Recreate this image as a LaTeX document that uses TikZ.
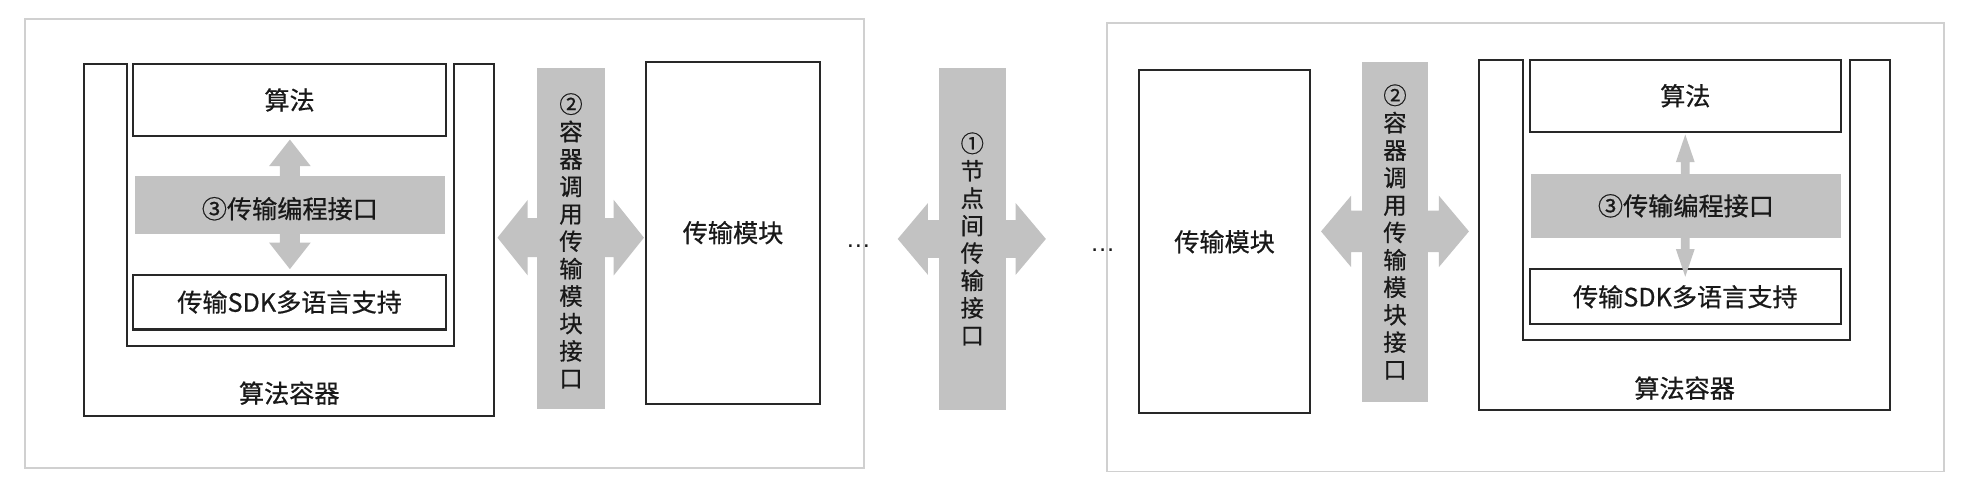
\documentclass[tikz,border=0pt]{standalone}
\usepackage{fontspec}
\setmainfont{Noto Sans CJK SC}[FakeBold=0.6]
\newfontfamily\latinf{Liberation Sans}
\usetikzlibrary{fit}
\definecolor{linec}{RGB}{40,40,40}
\definecolor{lightc}{RGB}{208,208,208}
\definecolor{bandc}{RGB}{194,194,194}
\definecolor{txtc}{RGB}{25,25,25}
\newcommand\hblock[5]{\fill[bandc] (#1) -- ([shift={(#3,-#4)}]#1) -- ([shift={(#3,-#5)}]#1) -- ([shift={(-#3,-#5)}]#2) -- ([shift={(-#3,-#4)}]#2) -- (#2) -- ([shift={(-#3,#4)}]#2) -- ([shift={(-#3,#5)}]#2) -- ([shift={(#3,#5)}]#1) -- ([shift={(#3,#4)}]#1) -- cycle;}
\newcommand\vblock[5]{\fill[bandc] (#1) -- ([shift={(#4,#3)}]#1) -- ([shift={(#5,#3)}]#1) -- ([shift={(#5,-#3)}]#2) -- ([shift={(#4,-#3)}]#2) -- (#2) -- ([shift={(-#4,-#3)}]#2) -- ([shift={(-#5,-#3)}]#2) -- ([shift={(-#5,#3)}]#1) -- ([shift={(-#4,#3)}]#1) -- cycle;}
\begin{document}
\begin{tikzpicture}[x=0.5pt,y=-0.5pt,
  lightbox/.style={draw=lightc, line width=0.7pt, inner sep=0pt},
  blkbox/.style={draw=linec, line width=0.8pt, fill=white, inner sep=0pt},
  bandbox/.style={fill=bandc, draw=none, inner sep=0pt},
  blk/.style={draw=linec, line width=0.8pt},
  txt/.style={font=\fontsize{10}{12}\selectfont, text=txtc, inner sep=0pt},
  vtxt/.style={font=\fontsize{9.3}{10.9}\selectfont, align=center, text=txtc, inner sep=0pt},
  dots/.style={font=\latinf\fontsize{10}{12}\selectfont, text=txtc, inner sep=0pt}]
\useasboundingbox (0,0) rectangle (1568,394);
\fill[white] (0,0) rectangle (1568,394);

% ---------- left panel ----------
\node[lightbox, fit={(20,15.4)(686.8,372)}] (outL) {};
\draw[blk] (67,51) -- (101,51) -- (101,275) -- (361,275) -- (361,51) -- (393,51) -- (393,331) -- (67,331) -- cycle;
\coordinate (vLt) at (230.5,111);
\coordinate (vLb) at (230.5,214);
\vblock{vLt}{vLb}{21}{16.5}{8}
\node[bandbox, fit={(107,140)(354,186)}] (apiL) {};
\node[txt] (apiLt) at ([yshift=-1.5pt]apiL.center) {③传输编程接口};
\node[blkbox, fit={(106,51)(354.5,108)}] (algL) {};
\node[txt] (algLt) at (algL.center) {算法};
\node[blkbox, fit={(106,218.5)(354.5,262)}] (sdkL) {};
\node[txt] (sdkLt) at (sdkL.center) {传输SDK多语言支持};
\node[txt] (labL) at (230,312.6) {算法容器};
\coordinate (hLl) at (395.6,189);
\coordinate (hLr) at (512,189);
\hblock{hLl}{hLr}{24}{30}{15.5}
\node[bandbox, fit={(427,54)(481,325)}] (ifL) {};
\node[vtxt] (ifLt) at ([yshift=-1pt]ifL.center) {②\\容\\器\\调\\用\\传\\输\\模\\块\\接\\口};
\node[blkbox, fit={(514,49)(651.7,321)}] (tmL) {};
\node[txt] (tmLt) at (tmL.center) {传输模块};

% ---------- middle ----------
\node[dots] (dotL) at (682.6,196) {…};
\coordinate (hMl) at (713.8,190);
\coordinate (hMr) at (831.6,190);
\hblock{hMl}{hMr}{24}{28.5}{15}
\node[bandbox, fit={(746.5,54)(799.7,326)}] (ifM) {};
\node[vtxt] (ifMt) at (ifM.center) {①\\节\\点\\间\\传\\输\\接\\口};
\node[dots] (dotR) at (876.7,198.7) {…};

% ---------- right panel ----------
\node[lightbox, fit={(880.2,18.5)(1545.5,375)}] (outR) {};
\node[blkbox, fit={(905.4,56)(1042,328.5)}] (tmR) {};
\node[txt] (tmRt) at (tmR.center) {传输模块};
\coordinate (hRl) at (1050.4,184);
\coordinate (hRr) at (1168,184);
\hblock{hRl}{hRr}{24}{28.5}{16.5}
\node[bandbox, fit={(1082.8,49)(1135.6,320)}] (ifR) {};
\node[vtxt] (ifRt) at (ifR.center) {②\\容\\器\\调\\用\\传\\输\\模\\块\\接\\口};
\draw[blk] (1175.8,47.7) -- (1211.3,47.7) -- (1211.3,270.7) -- (1470.6,270.7) -- (1470.6,47.7) -- (1502.6,47.7) -- (1502.6,326) -- (1175.8,326) -- cycle;
\node[blkbox, fit={(1216.4,47.7)(1463.7,104.6)}] (algR) {};
\node[txt] (algRt) at (algR.center) {算法};
\node[blkbox, fit={(1216.4,214)(1463.7,258)}] (sdkR) {};
\node[txt] (sdkRt) at (sdkR.center) {传输SDK多语言支持};
\coordinate (vRt) at (1340,107);
\coordinate (vRb) at (1340,220);
\vblock{vRt}{vRb}{22}{7.5}{3.5}
\node[bandbox, fit={(1217.4,138)(1463.7,189.4)}] (apiR) {};
\node[txt] (apiRt) at (apiR.center) {③传输编程接口};
\node[txt] (labR) at (1339.5,308.6) {算法容器};
\end{tikzpicture}
\end{document}
